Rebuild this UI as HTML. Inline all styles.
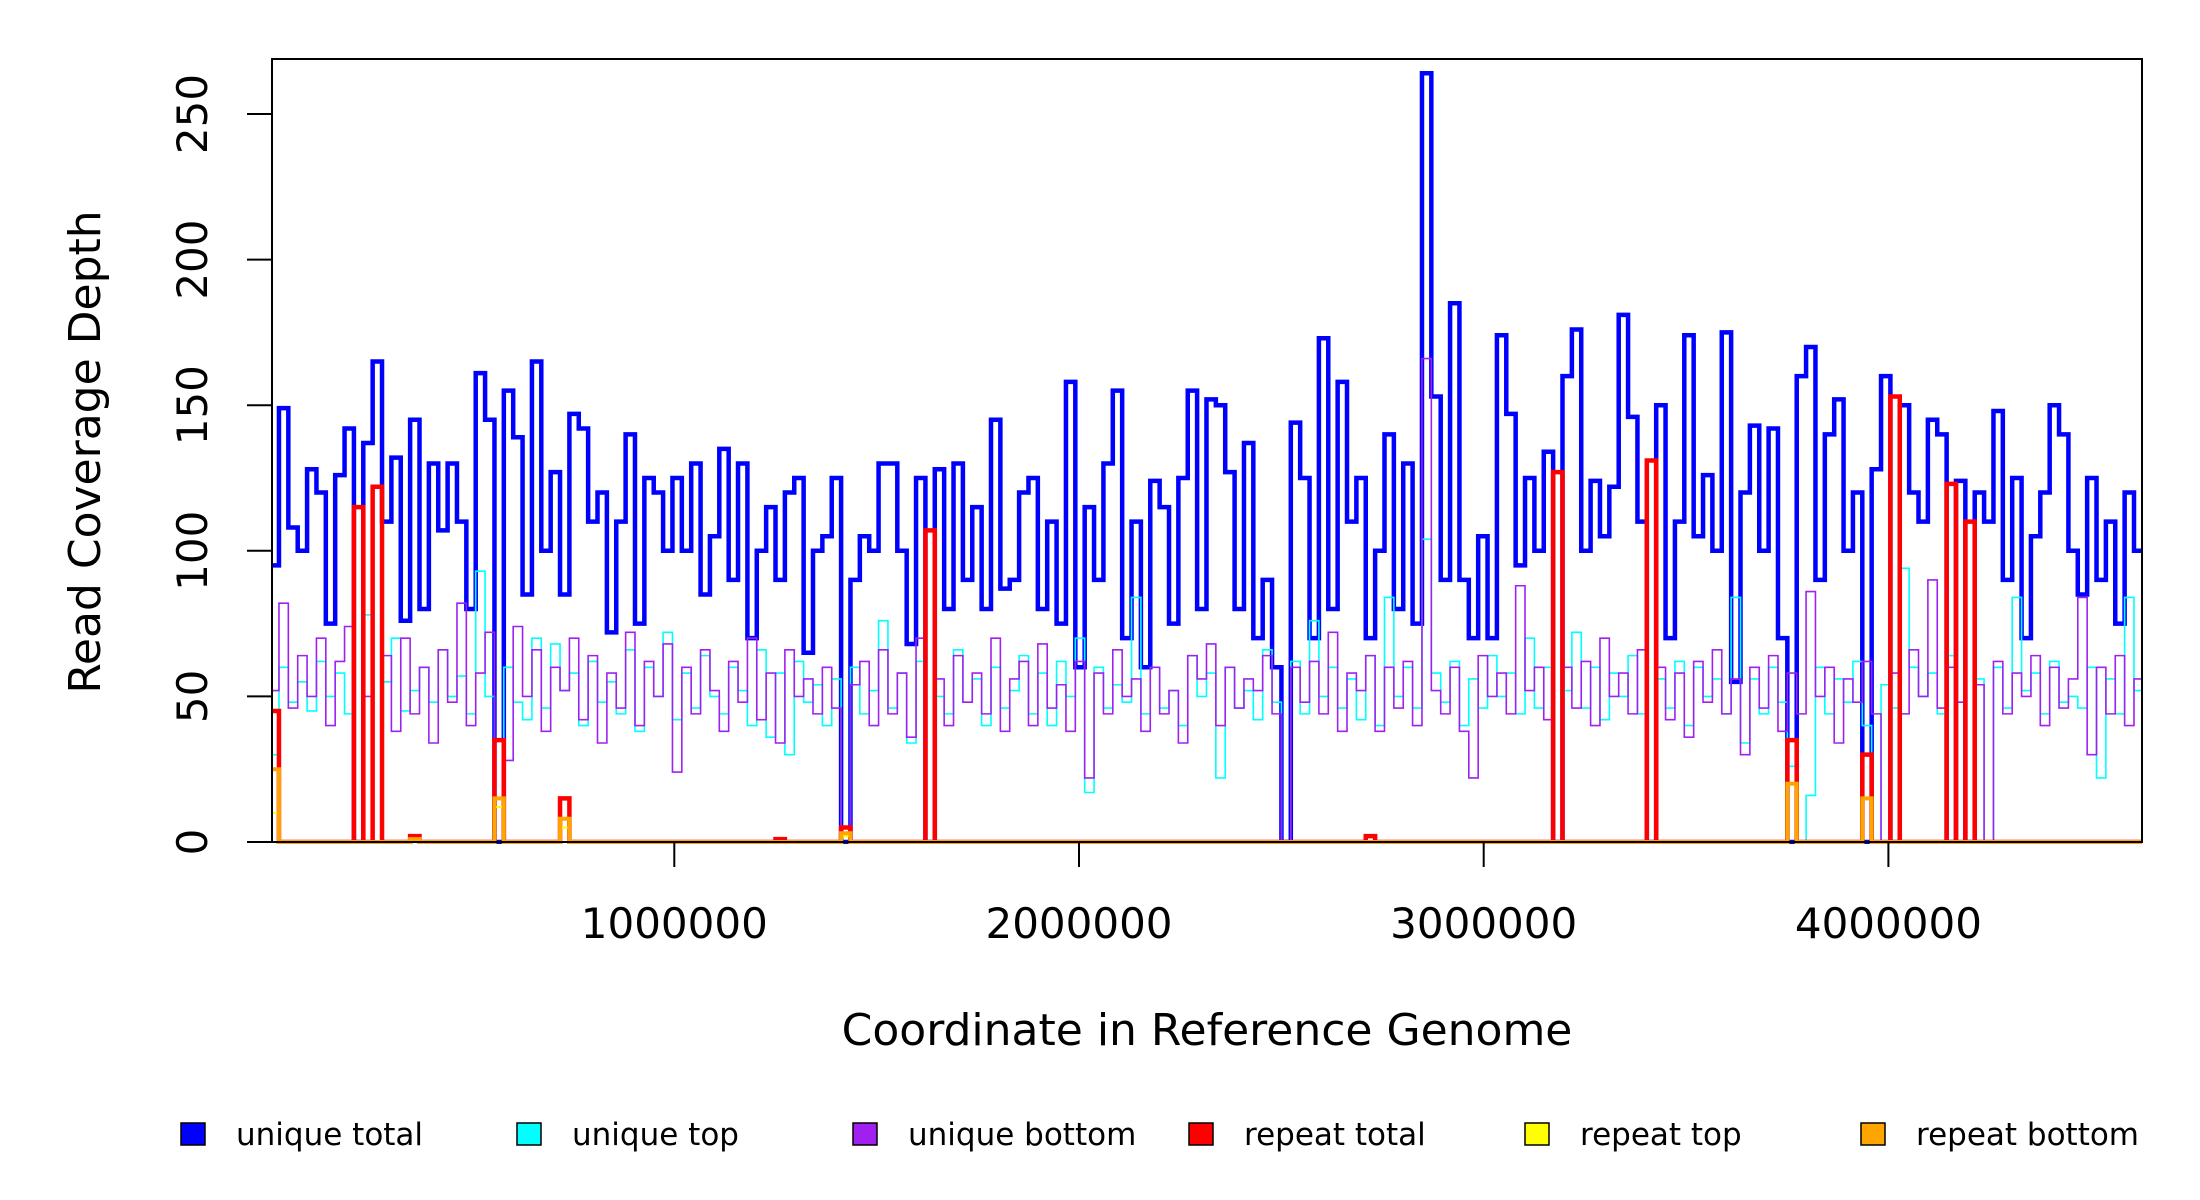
<!DOCTYPE html>
<html><head><meta charset="utf-8">
<style>
html,body{margin:0;padding:0;background:#fff;}
svg{display:block;font-family:"DejaVu Sans","Liberation Sans",sans-serif;}
</style></head>
<body>
<svg id="chart" width="2200" height="1200" viewBox="0 0 2200 1200" xmlns="http://www.w3.org/2000/svg">
<defs><clipPath id="plotclip"><rect x="272" y="59" width="1870" height="785"/></clipPath></defs>
<g id="series" clip-path="url(#plotclip)"></g>
<rect x="272" y="59" width="1870" height="783" fill="none" stroke="#000" stroke-width="2"/>
<g id="axes"></g>
<text transform="translate(100,452) rotate(-90)" text-anchor="middle" font-size="44">Read Coverage Depth</text>
<text x="1207" y="1045" text-anchor="middle" font-size="44">Coordinate in Reference Genome</text>
<g id="legend"></g>
</svg>
<script>
const binSize = 23150;
const uniqueTotal = [95,149,108,100,128,120,75,126,142,0,137,165,110,132,76,145,80,130,107,130,110,80,161,145,0,155,139,85,165,100,127,85,147,142,110,120,72,110,140,75,125,120,100,125,100,130,85,105,135,90,130,70,100,115,90,120,125,65,100,105,125,0,90,105,100,130,130,100,68,125,0,128,80,130,90,115,80,145,87,90,120,125,80,110,75,158,60,115,90,130,155,70,110,60,124,115,75,125,155,80,152,150,127,80,137,70,90,60,0,144,125,70,173,80,158,110,125,70,100,140,80,130,75,264,153,90,185,90,70,105,70,174,147,95,125,100,134,0,160,176,100,124,105,122,181,146,110,0,150,70,110,174,105,126,100,175,55,120,143,100,142,70,0,160,170,90,140,152,100,120,0,128,160,0,150,120,110,145,140,0,124,0,120,110,148,90,125,70,105,120,150,140,100,85,125,90,110,75,120,100];
const uniqueTop = [30,60,48,55,45,62,50,58,44,0,78,0,55,70,45,52,60,48,66,50,57,44,93,50,0,60,48,42,70,46,68,52,58,40,62,48,55,44,66,38,60,50,72,42,58,46,64,50,44,60,52,40,66,36,58,30,62,48,54,40,56,0,60,44,52,76,46,58,34,62,0,50,44,66,48,56,40,60,46,52,64,44,58,40,62,50,70,17,60,46,54,48,84,44,60,46,52,40,64,50,58,22,60,46,52,42,66,48,0,62,44,76,50,60,46,56,42,64,40,84,50,60,46,104,58,48,62,40,56,46,64,50,58,44,70,46,60,0,52,72,46,60,42,58,50,64,44,0,56,46,62,40,60,50,56,44,84,34,56,44,60,48,26,0,16,60,44,56,48,62,40,0,54,46,94,60,50,58,44,64,48,0,56,0,60,46,84,52,58,44,62,48,50,46,60,22,56,44,84,52,60,34];
const uniqueBottom = [52,82,46,64,50,70,40,62,74,0,50,0,64,38,70,44,60,34,66,48,82,40,58,72,0,28,74,50,66,38,60,52,70,42,64,34,58,46,72,40,62,50,68,24,60,44,66,52,38,62,48,70,42,58,34,66,50,56,44,60,46,0,54,62,40,66,44,58,36,70,0,56,40,64,48,58,44,70,38,56,62,40,68,46,54,38,62,22,58,44,66,50,56,38,60,44,52,34,64,56,68,40,60,46,56,52,64,44,0,60,48,62,44,72,38,58,52,64,38,60,46,62,40,166,52,44,60,38,22,64,50,58,44,88,52,60,42,0,60,46,62,40,70,50,58,44,66,0,60,42,58,36,62,48,66,44,56,30,60,46,64,38,58,44,86,50,60,34,56,48,62,44,0,58,44,66,50,90,46,60,48,0,54,0,62,44,58,50,64,40,60,46,56,84,30,60,44,64,40,56];
const repeatTotal = [
45,0,0,0,0,0,0,0,0,115,
0,122,0,0,0,2,0,0,0,0,
0,0,0,0,35,0,0,0,0,0,
0,15,0,0,0,0,0,0,0,0,
0,0,0,0,0,0,0,0,0,0,
0,0,0,0,1,0,0,0,0,0,
0,5,0,0,0,0,0,0,0,0,
107,0,0,0,0,0,0,0,0,0,
0,0,0,0,0,0,0,0,0,0,
0,0,0,0,0,0,0,0,0,0,
0,0,0,0,0,0,0,0,0,0,
0,0,0,0,0,0,0,2,0,0,
0,0,0,0,0,0,0,0,0,0,
0,0,0,0,0,0,0,127,0,0,
0,0,0,0,0,0,0,131,0,0,
0,0,0,0,0,0,0,0,0,0,
0,0,35,0,0,0,0,0,0,0,
30,0,0,153,0,0,0,0,0,123,
0,110,0,0,0,0,0,0,0,0,
0,0,0,0,0,0,0,0,0,0];
const repeatTop = [
10,0,0,0,0,0,0,0,0,0,
0,0,0,0,0,0,0,0,0,0,
0,0,0,0,12,0,0,0,0,0,
0,5,0,0,0,0,0,0,0,0,
0,0,0,0,0,0,0,0,0,0,
0,0,0,0,0,0,0,0,0,0,
0,2,0,0,0,0,0,0,0,0,
0,0,0,0,0,0,0,0,0,0,
0,0,0,0,0,0,0,0,0,0,
0,0,0,0,0,0,0,0,0,0,
0,0,0,0,0,0,0,0,0,0,
0,0,0,0,0,0,0,0,0,0,
0,0,0,0,0,0,0,0,0,0,
0,0,0,0,0,0,0,0,0,0,
0,0,0,0,0,0,0,0,0,0,
0,0,0,0,0,0,0,0,0,0,
0,0,0,0,0,0,0,0,0,0,
0,0,0,0,0,0,0,0,0,0,
0,0,0,0,0,0,0,0,0,0,
0,0,0,0,0,0,0,0,0,0];
const repeatBottom = [
25,0,0,0,0,0,0,0,0,0,
0,0,0,0,0,1,0,0,0,0,
0,0,0,0,15,0,0,0,0,0,
0,8,0,0,0,0,0,0,0,0,
0,0,0,0,0,0,0,0,0,0,
0,0,0,0,0,0,0,0,0,0,
0,3,0,0,0,0,0,0,0,0,
0,0,0,0,0,0,0,0,0,0,
0,0,0,0,0,0,0,0,0,0,
0,0,0,0,0,0,0,0,0,0,
0,0,0,0,0,0,0,0,0,0,
0,0,0,0,0,0,0,0,0,0,
0,0,0,0,0,0,0,0,0,0,
0,0,0,0,0,0,0,0,0,0,
0,0,0,0,0,0,0,0,0,0,
0,0,0,0,0,0,0,0,0,0,
0,0,20,0,0,0,0,0,0,0,
15,0,0,0,0,0,0,0,0,0,
0,0,0,0,0,0,0,0,0,0,
0,0,0,0,0,0,0,0,0,0];
const yTicks = [0,50,100,150,200,250];
const xTicks = [1000000,2000000,3000000,4000000];
const xTickLabels = ["1000000","2000000","3000000","4000000"];
const legendLabels = ["unique total","unique top","unique bottom","repeat total","repeat top","repeat bottom"];
const legendColors = ["#0000ff","#00ffff","#a020f0","#ff0000","#ffff00","#ffa500"];

const NS="http://www.w3.org/2000/svg";
const Y0=842;
function xs(v){return 269.6+v*0.0004047;}
function ys(v){return Y0-v*2.912;}
function stepPath(arr){
  let d="M"+xs(0)+","+ys(arr[0]);
  for(let i=0;i<arr.length;i++){
    const y=ys(arr[i]);
    d+=" L"+xs(i*binSize)+","+y+" L"+xs((i+1)*binSize)+","+y;
  }
  return d;
}
const series=document.getElementById('series');
const defs=[[uniqueTotal,"#0000ff",4.5,"unique-total-line"],[uniqueTop,"#00ffff",1.6,"unique-top-line"],[uniqueBottom,"#a020f0",1.6,"unique-bottom-line"],[repeatTotal,"#ff0000",4.5,"repeat-total-line"],[repeatTop,"#ffff00",2,"repeat-top-line"],[repeatBottom,"#ffa500",4,"repeat-bottom-line"]];
defs.forEach(s=>{
  const p=document.createElementNS(NS,'path');
  p.setAttribute('d',stepPath(s[0]));
  p.setAttribute('fill','none');
  p.setAttribute('stroke',s[1]);
  p.setAttribute('stroke-width',s[2]);
  
  
  series.appendChild(p);
});
const axes=document.getElementById('axes');
yTicks.forEach(t=>{
  const y=ys(t);
  const l=document.createElementNS(NS,'line');
  l.setAttribute('x1',247);l.setAttribute('x2',272);l.setAttribute('y1',y);l.setAttribute('y2',y);
  l.setAttribute('stroke','#000');l.setAttribute('stroke-width','2');
  
  
  axes.appendChild(l);
  const tx=document.createElementNS(NS,'text');
  tx.setAttribute('transform','translate(207,'+y+') rotate(-90)');
  tx.setAttribute('text-anchor','middle');tx.setAttribute('font-size','42');
  tx.textContent=t;
  
  
  axes.appendChild(tx);
});
xTicks.forEach((t,i)=>{
  const x=xs(t);
  const l=document.createElementNS(NS,'line');
  l.setAttribute('x1',x);l.setAttribute('x2',x);l.setAttribute('y1',Y0);l.setAttribute('y2',Y0+25);
  l.setAttribute('stroke','#000');l.setAttribute('stroke-width','2');
  
  
  axes.appendChild(l);
  const tx=document.createElementNS(NS,'text');
  tx.setAttribute('x',x);tx.setAttribute('y',938);
  tx.setAttribute('text-anchor','middle');tx.setAttribute('font-size','42');
  tx.textContent=xTickLabels[i];
  
  
  axes.appendChild(tx);
});
const legend=document.getElementById('legend');
legendLabels.forEach((lab,i)=>{
  const bx=181+i*336;
  const r=document.createElementNS(NS,'rect');
  r.setAttribute('x',bx);r.setAttribute('y',1123);r.setAttribute('width',24);r.setAttribute('height',22);
  r.setAttribute('fill',legendColors[i]);r.setAttribute('stroke','#000');r.setAttribute('stroke-width','1.5');
  
  
  legend.appendChild(r);
  const tx=document.createElementNS(NS,'text');
  tx.setAttribute('x',bx+55);tx.setAttribute('y',1145);tx.setAttribute('font-size','31');
  tx.textContent=lab;
  
  
  legend.appendChild(tx);
});
</script>
</body></html>
